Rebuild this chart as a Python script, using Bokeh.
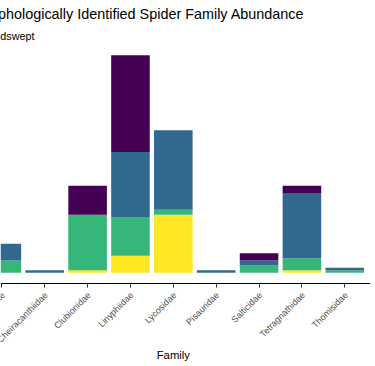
import math
from bokeh.plotting import figure
from bokeh.models import Range1d, FixedTicker, Title, Label, LabelSet, ColumnDataSource
from bokeh.core.properties import value
from bokeh.embed import file_html
from bokeh.resources import INLINE

families = ["Araneidae", "Cheiracanthiidae", "Clubionidae", "Linyphiidae", "Lycosidae",
            "Pisauridae", "Salticidae", "Tetragnathidae", "Thomisidae"]
# stacked series, listed bottom to top
series_names = ["Group 4", "Group 3", "Group 2", "Group 1"]
group4 = [0, 0, 1, 7, 24, 0, 0, 1, 0]     # yellow (bottom)
group3 = [5, 0, 23, 16, 2, 0, 3, 5, 1]    # green
group2 = [7, 1, 0, 27, 33, 1, 2, 27, 1]   # blue
group1 = [0, 0, 12, 40, 0, 0, 3, 3, 0]    # purple (top)
colors = ["#FDE725", "#35B779", "#31688E", "#440154"]

title_text = "Morphologically Identified Spider Family Abundance"
subtitle_text = "Handswept"
x_title = "Family"

xpos = list(range(len(families)))
data = dict(x=xpos)
for name, vals in zip(series_names, [group4, group3, group2, group1]):
    data[name] = vals

FONT = "Liberation Sans"

# panel layout (ggplot style: 5% expansion of the value axis)
W, H = 375, 366
TOP = 44            # top of the plotting panel
PANEL_BOTTOM = 283  # where the x axis line sits
Y_MAX = 94.5
Y0 = -4.5           # value at the axis line
px_per_unit = (PANEL_BOTTOM - TOP) / (Y_MAX - Y0)
y_low = Y0 - (H - PANEL_BOTTOM) / px_per_unit   # frame extends to the canvas bottom

p = figure(width=W, height=H, output_backend="svg", toolbar_location=None,
           title=title_text, y_axis_location=None,
           x_range=Range1d(-0.032, 8.6), y_range=Range1d(y_low, Y_MAX),
           min_border_left=0, min_border_right=5, min_border_top=TOP, min_border_bottom=0)

p.title.text_font = FONT
p.title.text_font_size = "14.4px"
p.title.text_font_style = "normal"
p.title.text_color = "black"
p.title.align = "left"
p.title.offset = -27.3
p.title.standoff = 5

sub = Title(text=subtitle_text, align="left", offset=-20, text_font=FONT,
            text_font_size="10.8px", text_font_style="normal", text_color="black",
            standoff=6)
p.add_layout(sub, "above")

p.vbar_stack(series_names, x="x", width=0.9, color=colors, line_color=None,
             source=data)

ax = p.xaxis[0]
ax.fixed_location = Y0
ax.ticker = FixedTicker(ticks=xpos)
ax.major_label_text_color = None
ax.major_label_text_font_size = "1px"
ax.axis_line_color = "black"
ax.axis_line_width = 1
ax.major_tick_line_color = "#333333"
ax.major_tick_out = 4
ax.major_tick_in = 0
ax.minor_tick_out = 0
ax.minor_tick_in = 0

# tick labels: rotated 45 degrees, ending at the tick (like hjust = 1)
lab_src = ColumnDataSource(dict(x=xpos, y=[Y0] * len(xpos), text=families))
tick_labels = LabelSet(x="x", y="y", text="text", source=lab_src,
                       angle=math.pi / 4, text_align="right", text_baseline="top",
                       y_offset=-6.5, x_offset=-2,
                       text_font=value(FONT), text_font_size=value("9px"),
                       text_color=value("#4D4D4D"))
p.add_layout(tick_labels)

fam = Label(x=(len(families) - 1) / 2, y=Y0, y_offset=-71, text=x_title,
            text_align="center", text_baseline="alphabetic",
            text_font=FONT, text_font_size="11.3px", text_color="black")
p.add_layout(fam)

p.xgrid.visible = False
p.ygrid.visible = False
p.outline_line_color = None
p.background_fill_color = "white"
p.border_fill_color = "white"

open("out.html", "w").write(file_html(p, INLINE))
